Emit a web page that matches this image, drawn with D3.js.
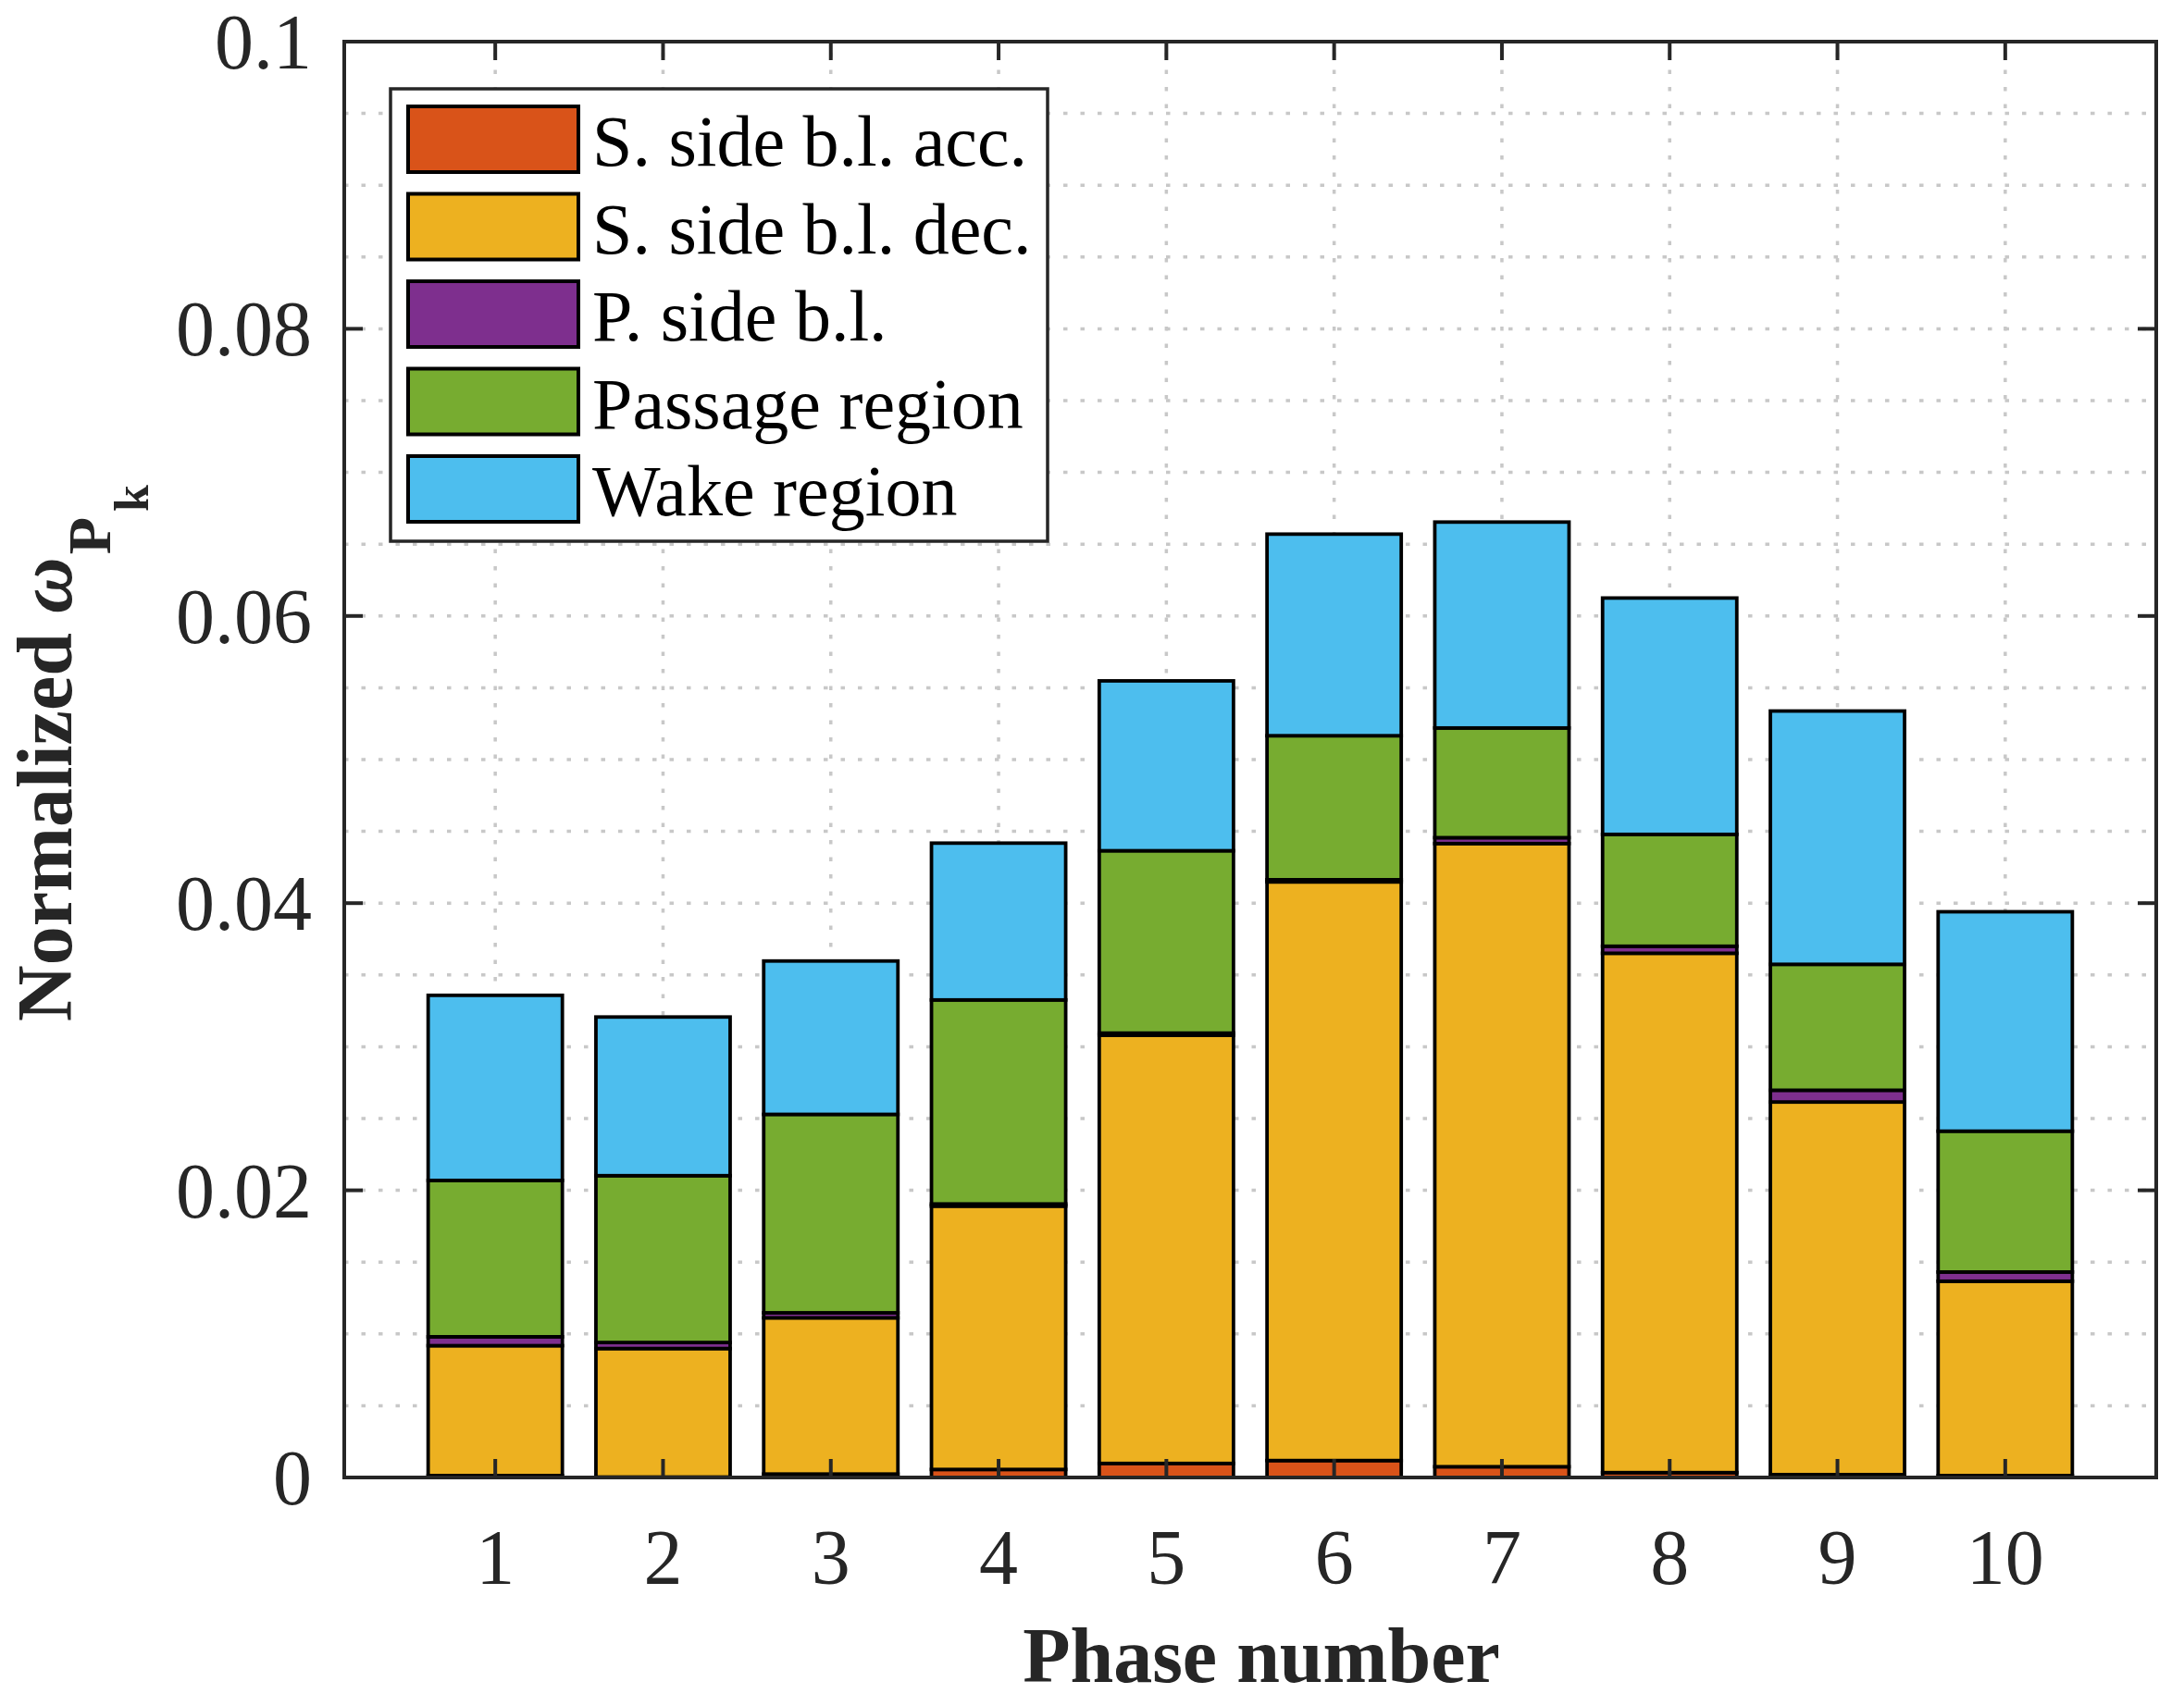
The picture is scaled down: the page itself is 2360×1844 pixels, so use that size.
<!DOCTYPE html>
<html>
<head>
<meta charset="utf-8">
<script src="https://cdn.jsdelivr.net/npm/d3@7/dist/d3.min.js"></script>
<style>
  html, body { margin: 0; padding: 0; background: #ffffff; }
  svg { display: block; }
</style>
</head>
<body>
<svg id="chart" width="2360" height="1844"></svg>
<script>
// ---------------- DATA ----------------
const categories = [1, 2, 3, 4, 5, 6, 7, 8, 9, 10];
const seriesNames = ["S. side b.l. acc.", "S. side b.l. dec.", "P. side b.l.", "Passage region", "Wake region"];
const seriesKeys = ["acc", "dec", "pside", "passage", "wake"];
const accValues     = [0.00013, 0.00003, 0.00024, 0.00056, 0.00098, 0.00118, 0.00075, 0.00034, 0.00020, 0.00013];
const decValues     = [0.00905, 0.00895, 0.01088, 0.01834, 0.02982, 0.04030, 0.04340, 0.03617, 0.02595, 0.01354];
const psideValues   = [0.00062, 0.00042, 0.00035, 0.00015, 0.00015, 0.00015, 0.00041, 0.00049, 0.00082, 0.00064];
const passageValues = [0.01089, 0.01162, 0.01382, 0.01421, 0.01270, 0.01003, 0.00764, 0.00779, 0.00877, 0.00981];
const wakeValues    = [0.01289, 0.01105, 0.01068, 0.01092, 0.01183, 0.01404, 0.01434, 0.01646, 0.01764, 0.01528];
const seriesColors  = ["#D95319", "#EDB120", "#7E2F8E", "#77AC30", "#4DBEEE"];
const yTickValues   = [0, 0.02, 0.04, 0.06, 0.08, 0.1];
const yTickLabels   = ["0", "0.02", "0.04", "0.06", "0.08", "0.1"];
const yGridValues   = [0.005, 0.01, 0.015, 0.02, 0.025, 0.03, 0.035, 0.04, 0.045, 0.05,
                       0.055, 0.06, 0.065, 0.07, 0.075, 0.08, 0.085, 0.09, 0.095];
const xLabel = "Phase number";

// ---------------- LAYOUT ----------------
const FONT = "'Liberation Serif', 'Times New Roman', Times, serif";
const AX = "#262626";
const plot = { left: 372, right: 2330, top: 45, bottom: 1597 };

const table = categories.map((c, i) => ({
  cat: c,
  acc: accValues[i], dec: decValues[i], pside: psideValues[i],
  passage: passageValues[i], wake: wakeValues[i]
}));

const x = d3.scaleLinear().domain([0.1, 10.9]).range([plot.left, plot.right]);
const y = d3.scaleLinear().domain([0, 0.1]).range([plot.bottom, plot.top]);
const barWidth = 0.8;

const svg = d3.select("#chart");
svg.append("rect").attr("width", 2360).attr("height", 1844).attr("fill", "#ffffff");

// ---------------- GRID ----------------
const grid = svg.append("g").attr("stroke", "#c8c8c8").attr("stroke-width", 3.5)
  .attr("stroke-dasharray", "4.5,14");
grid.selectAll("line.hg").data(yGridValues).join("line").attr("class", "hg")
  .attr("x1", plot.left).attr("x2", plot.right)
  .attr("y1", d => y(d)).attr("y2", d => y(d));
grid.selectAll("line.vg").data(categories).join("line").attr("class", "vg")
  .attr("x1", d => x(d)).attr("x2", d => x(d))
  .attr("y1", plot.bottom).attr("y2", plot.top);

// ---------------- BARS ----------------
const stacked = d3.stack().keys(seriesKeys)(table);
const barsG = svg.append("g");
stacked.forEach((layer, si) => {
  barsG.append("g")
    .selectAll("rect")
    .data(layer)
    .join("rect")
    .attr("x", d => x(d.data.cat - barWidth / 2))
    .attr("width", d => x(d.data.cat + barWidth / 2) - x(d.data.cat - barWidth / 2))
    .attr("y", d => y(d[1]))
    .attr("height", d => y(d[0]) - y(d[1]))
    .attr("fill", seriesColors[si])
    .attr("stroke", "#000000")
    .attr("stroke-width", 3.8);
});

// ---------------- AXES ----------------
const axG = svg.append("g");
const tickLen = 20;
axG.selectAll("line.ytl").data(yTickValues).join("line")
  .attr("x1", plot.left).attr("x2", plot.left + tickLen)
  .attr("y1", d => y(d)).attr("y2", d => y(d))
  .attr("stroke", AX).attr("stroke-width", 4);
axG.selectAll("line.ytr").data(yTickValues).join("line")
  .attr("x1", plot.right).attr("x2", plot.right - tickLen)
  .attr("y1", d => y(d)).attr("y2", d => y(d))
  .attr("stroke", AX).attr("stroke-width", 4);
axG.selectAll("line.xtb").data(categories).join("line")
  .attr("x1", d => x(d)).attr("x2", d => x(d))
  .attr("y1", plot.bottom).attr("y2", plot.bottom - tickLen)
  .attr("stroke", AX).attr("stroke-width", 4);
axG.selectAll("line.xtt").data(categories).join("line")
  .attr("x1", d => x(d)).attr("x2", d => x(d))
  .attr("y1", plot.top).attr("y2", plot.top + tickLen)
  .attr("stroke", AX).attr("stroke-width", 4);
axG.append("rect")
  .attr("x", plot.left).attr("y", plot.top)
  .attr("width", plot.right - plot.left).attr("height", plot.bottom - plot.top)
  .attr("fill", "none").attr("stroke", AX).attr("stroke-width", 4);

// tick labels
axG.selectAll("text.yl").data(yTickValues).join("text")
  .attr("x", plot.left - 35)
  .attr("y", d => y(d) + 29)
  .attr("text-anchor", "end")
  .attr("font-family", FONT).attr("font-size", 84).attr("fill", AX)
  .text((d, i) => yTickLabels[i]);
axG.selectAll("text.xl").data(categories).join("text")
  .attr("x", d => x(d))
  .attr("y", 1712)
  .attr("text-anchor", "middle")
  .attr("font-family", FONT).attr("font-size", 84).attr("fill", AX)
  .text(d => String(d));

// axis labels
svg.append("text")
  .attr("x", 1363).attr("y", 1818)
  .attr("text-anchor", "middle")
  .attr("font-family", FONT).attr("font-size", 84).attr("font-weight", "bold").attr("fill", AX)
  .text(xLabel);

const yl = svg.append("text")
  .attr("transform", "translate(77,1104) rotate(-90)")
  .attr("text-anchor", "start")
  .attr("font-family", FONT).attr("font-size", 84).attr("font-weight", "bold").attr("fill", AX);
yl.append("tspan").text("Normalized ");
yl.append("tspan").attr("font-style", "italic").text("\u03C9");
yl.append("tspan").attr("font-size", 66).attr("dx", 3).attr("dy", 42).text("P");
yl.append("tspan").attr("font-size", 52).attr("dx", 6).attr("dy", 41).text("k");

// ---------------- LEGEND ----------------
const leg = svg.append("g");
leg.append("rect")
  .attr("x", 422).attr("y", 96).attr("width", 710).attr("height", 489)
  .attr("fill", "#ffffff").attr("stroke", AX).attr("stroke-width", 3.5);
const rowY = d3.scaleLinear().domain([0, 4]).range([150.5, 528.5]);
const rows = leg.selectAll("g.row").data(seriesNames).join("g").attr("class", "row");
rows.append("rect")
  .attr("x", 441).attr("width", 184)
  .attr("y", (d, i) => rowY(i) - 35.5).attr("height", 71)
  .attr("fill", (d, i) => seriesColors[i])
  .attr("stroke", "#000000").attr("stroke-width", 4);
rows.append("text")
  .attr("x", 640).attr("y", (d, i) => rowY(i) + 28.5)
  .attr("font-family", FONT).attr("font-size", 78).attr("fill", "#000000")
  .text(d => d);
</script>
</body>
</html>
